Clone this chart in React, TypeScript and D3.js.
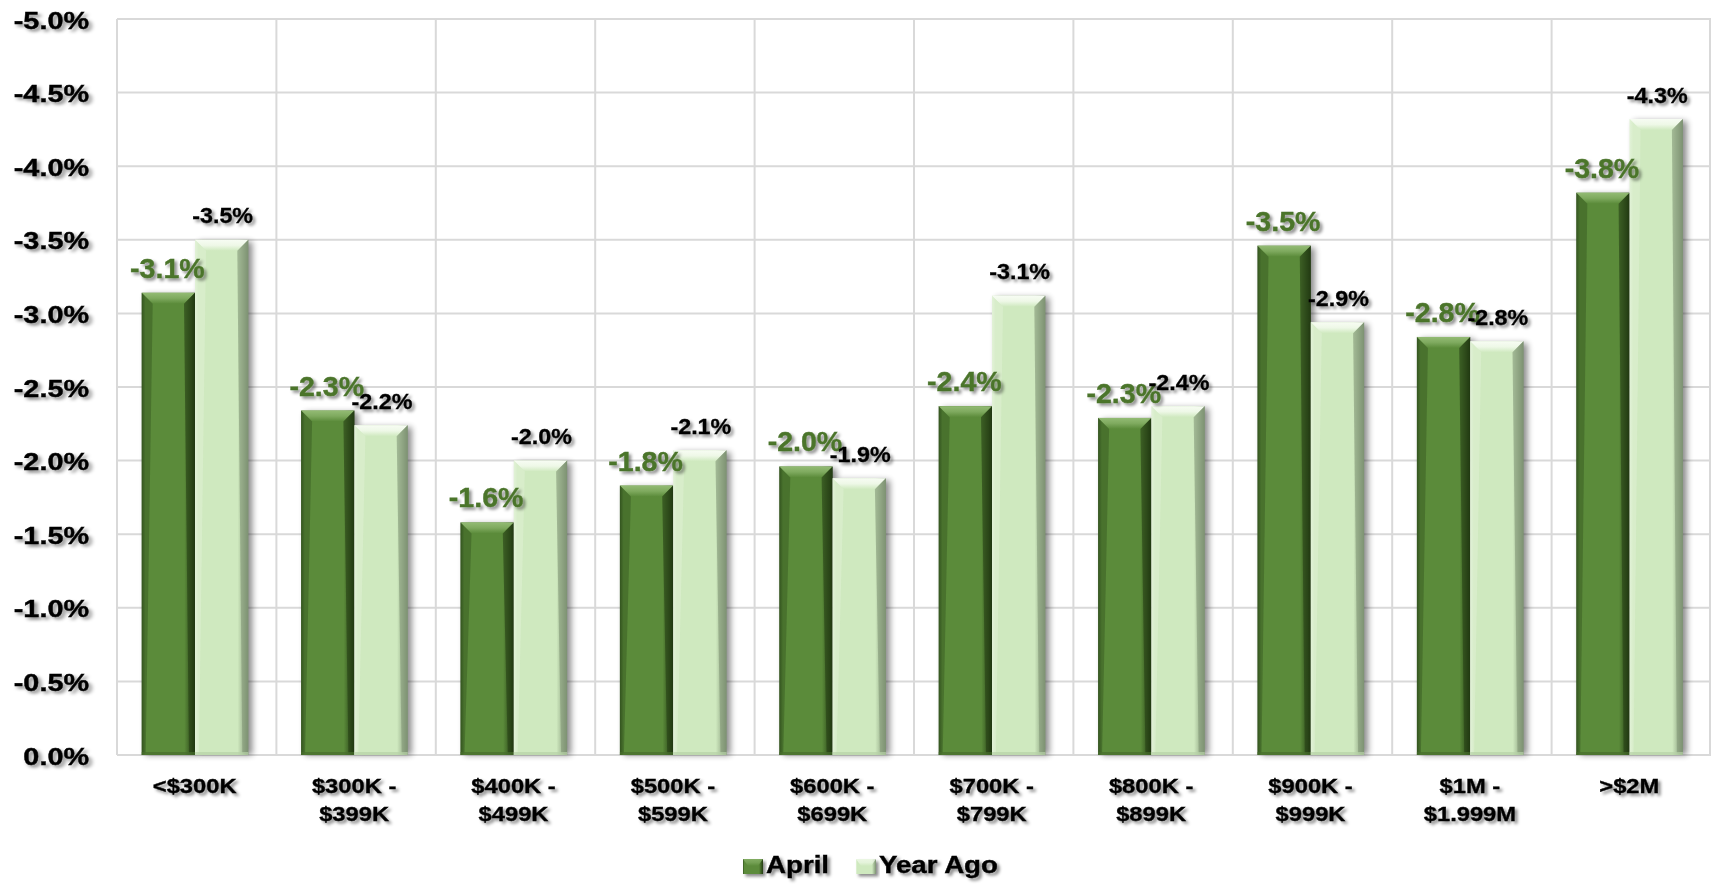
import React from "react";
import * as d3 from "d3";

const categories: string[][] = [
  ["<$300K"],
  ["$300K -", "$399K"],
  ["$400K -", "$499K"],
  ["$500K -", "$599K"],
  ["$600K -", "$699K"],
  ["$700K -", "$799K"],
  ["$800K -", "$899K"],
  ["$900K -", "$999K"],
  ["$1M -", "$1.999M"],
  [">$2M"],
];
const seriesNames = ["April", "Year Ago"];
const aprilValues = [-3.14, -2.34, -1.58, -1.83, -1.96, -2.37, -2.29, -3.46, -2.84, -3.82];
const yearAgoValues = [-3.5, -2.24, -2.0, -2.07, -1.88, -3.12, -2.37, -2.94, -2.81, -4.32];
const yTicks = [0, -0.5, -1, -1.5, -2, -2.5, -3, -3.5, -4, -4.5, -5];

const W = 1711;
const H = 884;
const plotLeft = 117;
const plotRight = 1711;
const plotTop = 19;
const plotBottom = 755;

const palettes = [
  { id: "apr", body: "#5b8b3a", left: "#34541f", right: "#223a13", top: "#7faa5f", topEdge: "#93bb74", bottom: "#476e2c" },
  { id: "ya", body: "#cfe9bf", left: "#e2f2d8", right: "#7d9272", top: "#eef8e7", topEdge: "#f7fcf3", bottom: "#b7d2a7" },
];

const fmt = (v: number) => (v < 0 ? "-" : "") + Math.abs(v).toFixed(1) + "%";

function Bar({ x, w, yTop, yBottom, p }: { x: number; w: number; yTop: number; yBottom: number; p: any }) {
  const h = yBottom - yTop;
  const b = Math.min(11, h / 2);
  const x1 = x + w;
  return (
    <g>
      <rect x={x + 4} y={yTop + 2} width={w} height={h - 2} fill="#000" opacity={0.45} filter="url(#barShadow)" />
      <rect x={x} y={yTop} width={w} height={h} fill={`url(#body-${p.id})`} />
      <polygon
        points={`${x},${yTop} ${x1},${yTop} ${x1 - b},${yTop + b} ${x + b},${yTop + b}`}
        fill={`url(#top-${p.id})`}
      />
      <polygon
        points={`${x1},${yTop} ${x1},${yBottom} ${x1 - 6},${yBottom - 2} ${x1 - b},${yTop + b}`}
        fill={p.right}
        opacity={0.55}
      />
      <polygon
        points={`${x},${yTop} ${x + b},${yTop + b} ${x + 4},${yBottom - 2} ${x},${yBottom}`}
        fill={p.left}
        opacity={0.45}
      />
      <rect x={x} y={yBottom - 3} width={w} height={3} fill={p.bottom} opacity={0.7} />
    </g>
  );
}

export default function App() {
  const x = d3.scaleBand<number>().domain(d3.range(categories.length)).range([plotLeft, plotRight]).padding(0);
  const bw = x.bandwidth();
  const xs = d3.scaleBand<string>().domain(seriesNames).range([24.7, 131.3]).padding(0);
  const y = d3.scaleLinear().domain([0, -5]).range([plotBottom, plotTop]);
  const series = [aprilValues, yearAgoValues];
  const font = "Arial, 'Liberation Sans', sans-serif";

  return (
    <svg width={W} height={H} style={{ position: "absolute", left: 0, top: 0, display: "block", background: "#fff" }}>
      <defs>
        <filter id="barShadow" x="-30%" y="-10%" width="160%" height="120%">
          <feGaussianBlur stdDeviation="3" />
        </filter>
        <filter id="txtShadow" x="-10%" y="-30%" width="130%" height="170%">
          <feDropShadow dx="2.5" dy="2.5" stdDeviation="1.6" floodColor="#000" floodOpacity="0.45" />
        </filter>
        {palettes.map((p) => (
          <React.Fragment key={p.id}>
            <linearGradient id={`body-${p.id}`} x1="0" x2="1" y1="0" y2="0">
              <stop offset="0" stopColor={p.left} />
              <stop offset="0.07" stopColor={p.body} />
              <stop offset="0.8" stopColor={p.body} />
              <stop offset="1" stopColor={p.right} />
            </linearGradient>
            <linearGradient id={`top-${p.id}`} x1="0" x2="0" y1="0" y2="1">
              <stop offset="0" stopColor={p.topEdge} />
              <stop offset="0.5" stopColor={p.top} />
              <stop offset="1" stopColor={p.body} />
            </linearGradient>
          </React.Fragment>
        ))}
      </defs>

      {/* gridlines */}
      {yTicks.map((t) => (
        <line key={`h${t}`} x1={plotLeft} x2={plotRight} y1={y(t)} y2={y(t)} stroke="#d9d9d9" strokeWidth={2} />
      ))}
      {d3.range(categories.length + 1).map((i) => {
        const gx = i < categories.length ? (x(i) as number) : plotRight - 1;
        return <line key={`v${i}`} x1={gx} x2={gx} y1={plotTop} y2={plotBottom} stroke="#d9d9d9" strokeWidth={2} />;
      })}

      {/* bars */}
      {categories.map((_, i) =>
        seriesNames.map((s, si) => {
          const v = series[si][i];
          const bx = (x(i) as number) + (xs(s) as number);
          return <Bar key={`${i}-${s}`} x={bx} w={xs.bandwidth()} yTop={y(v)} yBottom={y(0)} p={palettes[si]} />;
        })
      )}

      {/* y tick labels */}
      {yTicks.map((t) => (
        <text
          key={`yt${t}`}
          transform={`translate(89,${y(t) + 9.5}) scale(1.2,1)`}
          textAnchor="end"
          fontFamily={font}
          fontWeight="bold"
          fontSize={24}
          fill="#000"
          stroke="#000"
          strokeWidth={0.4}
          filter="url(#txtShadow)"
        >
          {fmt(t)}
        </text>
      ))}

      {/* category labels */}
      {categories.map((lines, i) => (
        <g key={`c${i}`}>
          {lines.map((ln, li) => (
            <text
              key={li}
              transform={`translate(${(x(i) as number) + bw / 2 - 2},${793 + li * 28}) scale(1.13,1)`}
              textAnchor="middle"
              fontFamily={font}
              fontWeight="bold"
              fontSize={21}
              fill="#000"
              stroke="#000"
              strokeWidth={0.35}
              filter="url(#txtShadow)"
            >
              {ln}
            </text>
          ))}
        </g>
      ))}

      {/* April labels (green) */}
      {aprilValues.map((v, i) => (
        <text
          key={`la${i}`}
          transform={`translate(${(x(i) as number) + (xs("April") as number) + xs.bandwidth() / 2 - 1},${y(v) - 15}) scale(1.02,1)`}
          textAnchor="middle"
          fontFamily={font}
          fontWeight="bold"
          fontSize={28}
          fill="#4b742b"
          stroke="#4b742b"
          strokeWidth={0.4}
          filter="url(#txtShadow)"
        >
          {fmt(v)}
        </text>
      ))}

      {/* Year Ago labels (black) */}
      {yearAgoValues.map((v, i) => (
        <text
          key={`ly${i}`}
          transform={`translate(${(x(i) as number) + (xs("Year Ago") as number) + xs.bandwidth() / 2 + 1},${y(v) - 16.5}) scale(1.06,1)`}
          textAnchor="middle"
          fontFamily={font}
          fontWeight="bold"
          fontSize={22}
          fill="#000"
          stroke="#000"
          strokeWidth={0.3}
          filter="url(#txtShadow)"
        >
          {fmt(v)}
        </text>
      ))}

      {/* legend */}
      {seriesNames.map((s, si) => {
        const sx = si === 0 ? 743 : 856;
        const p = palettes[si];
        return (
          <g key={`lg${s}`}>
            <rect x={sx} y={859} width={20} height={15} fill={`url(#body-${p.id})`} filter="url(#txtShadow)" />
            <polygon
              points={`${sx},859 ${sx + 20},859 ${sx + 15},866 ${sx + 5},866`}
              fill={`url(#top-${p.id})`}
              opacity={0.7}
            />
            <text
              transform={`translate(${sx + 23},873) scale(1.13,1)`}
              fontFamily={font}
              fontWeight="bold"
              fontSize={24.5}
              fill="#000"
              stroke="#000"
              strokeWidth={0.4}
              filter="url(#txtShadow)"
            >
              {s}
            </text>
          </g>
        );
      })}
    </svg>
  );
}
